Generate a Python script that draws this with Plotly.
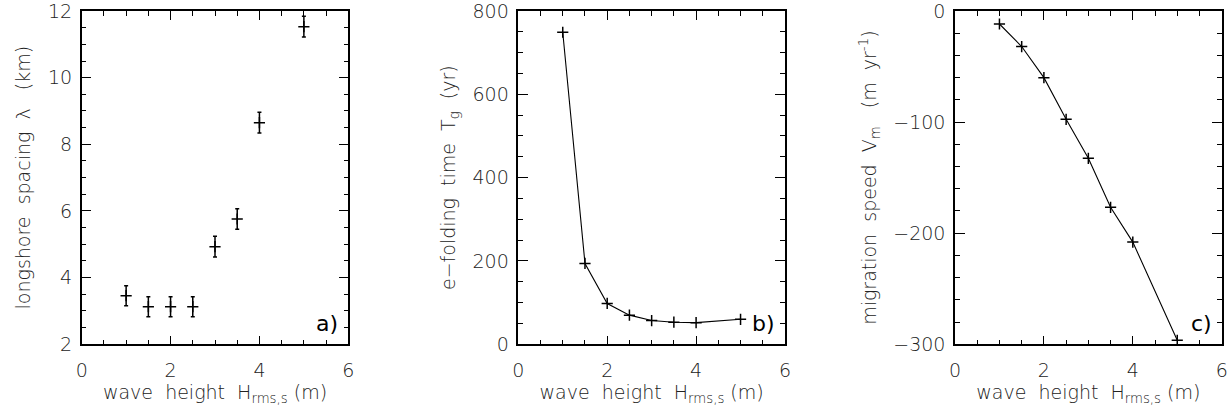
import plotly.graph_objects as go

# Data
H = [1.0, 1.5, 2.0, 2.5, 3.0, 3.5, 4.0, 5.0]
spacing_km = [3.46, 3.13, 3.13, 3.13, 4.93, 5.76, 8.65, 11.53]
spacing_err = [0.30, 0.30, 0.30, 0.30, 0.31, 0.31, 0.31, 0.31]
efold_yr = [749, 194, 98, 70, 57, 53, 52, 60]
migr_speed = [-11.7, -32, -60, -97.5, -132.6, -176.7, -208, -296.4]

NB = "\u00a0"
panel_labels = ["a)", "b)", "c)"]
y_titles = ["longshore" + NB * 2 + "spacing" + NB * 2 + "λ" + NB * 3 + "(km)",
            "e−folding" + NB * 2 + "time" + NB * 2 + "T<sub>g</sub>" + NB * 2 + "(yr)",
            "migration" + NB * 2 + "speed" + NB * 2 + "V<sub>m</sub>" + NB * 3
            + "(m" + NB * 2 + "yr<sup>-1</sup>)"]
x_title = "wave" + NB * 2 + "height" + NB * 2 + "H<sub>rms,s</sub>" + NB + "(m)"

W, Hgt = 1231, 415
FONT = "DejaVu Sans"
TXT = "#222222"
FS = 19

xdoms = [(81.7 / W, 348.3 / W), (518.3 / W, 785 / W), (955 / W, 1221.7 / W)]
ydom = (1 - 344.3 / Hgt, 1 - 11 / Hgt)

fig = go.Figure()

fig.add_trace(go.Scatter(
    x=H, y=spacing_km, mode="markers",
    marker=dict(symbol="cross-thin", size=8, line=dict(color="black", width=1.5)),
    error_y=dict(type="data", array=spacing_err, visible=True, color="black",
                 thickness=1.5, width=2),
    xaxis="x", yaxis="y", showlegend=False))

fig.add_trace(go.Scatter(
    x=H, y=efold_yr, mode="lines+markers",
    line=dict(color="black", width=1.1),
    marker=dict(symbol="cross-thin", size=8, line=dict(color="black", width=1.5)),
    xaxis="x2", yaxis="y2", showlegend=False))

fig.add_trace(go.Scatter(
    x=H, y=migr_speed, mode="lines+markers",
    line=dict(color="black", width=1.1),
    marker=dict(symbol="cross-thin", size=8, line=dict(color="black", width=1.5)),
    xaxis="x3", yaxis="y3", showlegend=False))

yspecs = [
    dict(range=[2, 12], dtick=2, minor=0.5),
    dict(range=[0, 800], dtick=200, minor=50),
    dict(range=[-300, 0], dtick=100, minor=20),
]

layout = dict(
    width=W, height=Hgt,
    margin=dict(l=0, r=0, t=0, b=0),
    paper_bgcolor="white", plot_bgcolor="white",
    font=dict(family=FONT, size=FS, color=TXT, weight=200),
    annotations=[],
)

for i in range(3):
    sx = "" if i == 0 else str(i + 1)
    layout["xaxis" + sx] = dict(
        domain=list(xdoms[i]), anchor="y" + sx, range=[0, 6], dtick=2,
        showgrid=False, zeroline=False, showline=True, linecolor="black",
        linewidth=1.5, mirror="ticks", ticks="inside", ticklen=9, tickwidth=1.2,
        tickcolor="black", automargin=False, ticklabelstandoff=8,
        ticklabeloverflow="allow",
        minor=dict(dtick=0.5, ticks="inside", ticklen=5, tickwidth=1.2, tickcolor="black"),
        tickfont=dict(family=FONT, size=FS, color=TXT, weight=200),
        title=dict(text=x_title, font=dict(family=FONT, size=FS, color=TXT, weight=200),
                   standoff=6),
    )
    ys = yspecs[i]
    layout["yaxis" + sx] = dict(
        domain=list(ydom), anchor="x" + sx, range=ys["range"], dtick=ys["dtick"],
        showgrid=False, zeroline=False, showline=True, linecolor="black",
        linewidth=1.5, mirror="ticks", ticks="inside", ticklen=10, tickwidth=1.2,
        tickcolor="black", automargin=False, ticklabelstandoff=4,
        ticklabeloverflow="allow",
        minor=dict(dtick=ys["minor"], ticks="inside", ticklen=5, tickwidth=1.2, tickcolor="black"),
        tickfont=dict(family=FONT, size=FS, color=TXT, weight=200),
        title=dict(text=y_titles[i], font=dict(family=FONT, size=FS, color=TXT, weight=200),
                   standoff=12),
    )
    layout["annotations"].append(dict(
        text=panel_labels[i], xref="x%s domain" % sx if sx else "x domain",
        yref="y%s domain" % sx if sx else "y domain",
        x=0.97, y=0.02, xanchor="right", yanchor="bottom", showarrow=False,
        font=dict(family=FONT, size=22, color="black", weight=400)))

fig.update_layout(**layout)
fig.write_html("out.html")
